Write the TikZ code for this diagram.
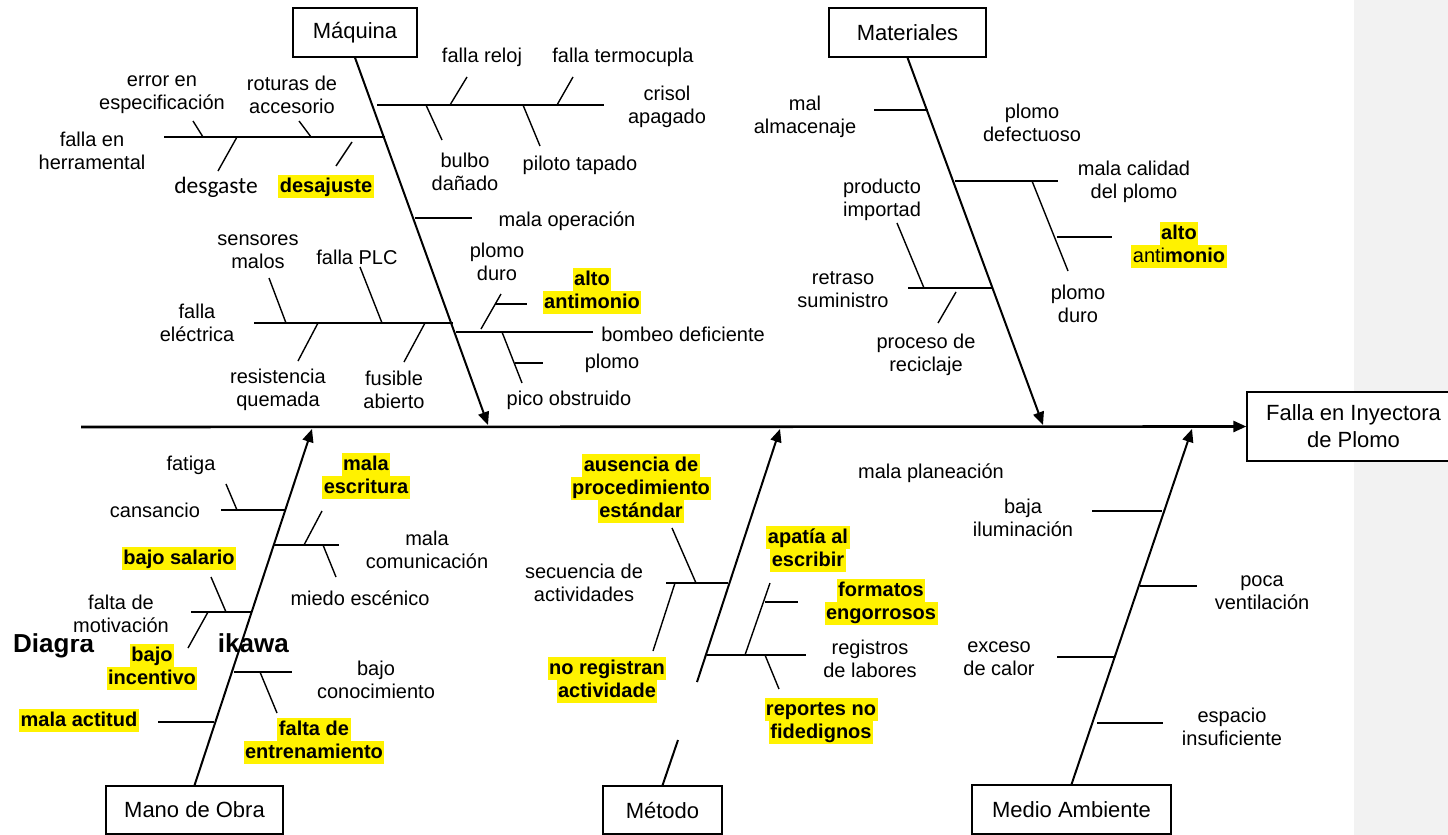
\documentclass[tikz,border=0pt]{standalone}
\usepackage{fontspec}
\setmainfont{Liberation Sans}
\newfontfamily\carlito{Carlito}
\usetikzlibrary{arrows.meta}
\definecolor{stripgrey}{RGB}{242,242,242}
\newcommand\hl[1]{{\setlength{\fboxsep}{0pt}\colorbox{yellow}{\rule[-5.5pt]{0pt}{23pt}\kern1.5pt#1\kern1.5pt}}}
\tikzset{
  catbox/.style={draw, line width=1.3pt, fill=white, inner sep=0pt, align=center, font=\fontsize{22}{26}\selectfont},
  spine/.style={line width=2.6pt},
  bone/.style={line width=2pt},
  sub/.style={line width=1.4pt},
  lbl/.style={inner sep=0pt, align=center, font=\fontsize{20}{23}\selectfont},
  hlbl/.style={inner sep=0pt, align=center, font=\fontsize{20}{23}\selectfont\bfseries},
  ttl/.style={inner sep=0pt, font=\fontsize{26}{30}\selectfont\bfseries},
  arr/.style={-{Triangle[length=13pt,width=11pt]}},
}
\begin{document}
\begin{tikzpicture}[x=1pt,y=-1pt]
\useasboundingbox (0,0) rectangle (1448,835);
\fill[stripgrey] (1354,0) rectangle (1448,835);

% title (visible fragments)
\node[ttl, anchor=base west] (title1) at (13,652) {Diagra};
\node[ttl, anchor=base east] (title2) at (289,652) {ikawa};
\fill[white] (68,588) rectangle (182,638.5);

% category boxes
\node[catbox, minimum width=124pt, minimum height=49pt] (maq) at (355,32.5) {Máquina};
\node[catbox, minimum width=157pt, minimum height=49pt] (mat) at (907.5,32.5) {Materiales};
\node[catbox, minimum width=177pt, minimum height=48pt] (mo) at (194.5,810) {Mano de Obra};
\node[catbox, minimum width=119pt, minimum height=48pt] (met) at (662.5,810) {Método};
\node[catbox, minimum width=199pt, minimum height=49pt] (ma) at (1071.5,809.5) {Medio Ambiente};
\node[catbox, minimum width=213pt, minimum height=69pt, font=\fontsize{22}{27}\selectfont] (falla) at (1353.5,426.5) {Falla en Inyectora\\de Plomo};

% spine and bones
\coordinate (sp0) at (81,427);
\draw[spine,arr] (sp0) -- (falla.west);
\coordinate (tMaq) at (488,425);
\coordinate (tMat) at (1043,425);
\coordinate (tMo) at (312,429);
\coordinate (tMet) at (780,429);
\coordinate (tMa) at (1192,429);
\coordinate (gapA) at (678,740);
\coordinate (gapB) at (697,682);
\draw[bone,arr] (maq.south) -- (tMaq);
\draw[bone,arr] (mat.south) -- (tMat);
\draw[bone,arr] (mo.north) -- (tMo);
\draw[bone] (met.north) -- (gapA);
\draw[bone,arr] (gapB) -- (tMet);
\draw[bone,arr] (ma.north) -- (tMa);

% ---- Maquina sub-bones
\draw[sub] (377,105) -- (604,105);
\draw[sub] (450,105) -- (467,77);
\draw[sub] (557,105) -- (573,77);
\draw[sub] (426,105) -- (442,140);
\draw[sub] (523,105) -- (540,146);
\draw[sub] (164,137) -- (385,137);
\draw[sub] (203,137) -- (193,121);
\draw[sub] (311,137) -- (299,121);
\draw[sub] (237,137) -- (218,171);
\draw[sub] (352,142) -- (336,166);
\draw[sub] (415,218) -- (472,218);
\draw[sub] (254,323) -- (453,323);
\draw[sub] (286,323) -- (269,278);
\draw[sub] (382,323) -- (360,267);
\draw[sub] (318,323) -- (298,361);
\draw[sub] (425,323) -- (404,362);
\draw[sub] (456,332) -- (593,332);
\draw[sub] (481,329) -- (501,294);
\draw[sub] (495,304) -- (527,304);
\draw[sub] (502,332) -- (522,383);
\draw[sub] (515,363) -- (543,363);

\node[lbl] (l1) at (482,57) {falla reloj};
\node[lbl] (l2) at (623,57) {falla termocupla};
\node[lbl] (l3) at (667,107) {crisol\\apagado};
\node[lbl] (l4) at (465,172) {bulbo\\dañado};
\node[lbl] (l5) at (580,165) {piloto tapado};
\node[lbl] (l6) at (92,151) {falla en\\herramental};
\node[lbl] (l7) at (162,95) {error en\\especificación};
\node[lbl] (l8) at (292,95) {roturas de\\accesorio};
\node[inner sep=0pt, font=\carlito\fontsize{23.5}{27}\selectfont] (l9) at (216,187) {desgaste};
\node[hlbl] (l10) at (326,186) {\hl{desajuste}};
\node[lbl] (l11) at (567,221) {mala operación};
\node[lbl] (l12) at (258,252) {sensores\\malos};
\node[lbl] (l13) at (357,257) {falla PLC};
\node[lbl] (l14) at (197,323) {falla\\eléctrica};
\node[lbl] (l15) at (278,390) {resistencia\\quemada};
\node[lbl] (l16) at (394,390) {fusible\\abierto};
\node[lbl] (l17) at (497,262) {plomo\\duro};
\node[hlbl] (l18) at (592,291) {\hl{alto}\\\hl{antimonio}};
\node[lbl] (l19) at (683,334) {bombeo deficiente};
\node[lbl] (l20) at (612,363) {plomo};
\node[lbl] (l21) at (569,400) {pico obstruido};

% ---- Materiales
\draw[sub] (874,110) -- (928,110);
\draw[sub] (955,181) -- (1058,181);
\draw[sub] (1032,181) -- (1068,271);
\draw[sub] (1057,237) -- (1112,237);
\draw[sub] (908,288) -- (993,288);
\draw[sub] (924,288) -- (897,223);
\draw[sub] (956,292) -- (938,323);

\node[lbl] (m1) at (805,117) {mal\\almacenaje};
\node[lbl] (m2) at (1032,123) {plomo\\defectuoso};
\node[lbl] (m3) at (1134,182) {mala calidad\\del plomo};
\node[lbl] (m4) at (1078,304) {plomo\\duro};
\node[lbl] (m5) at (1179,245) {\hl{\textbf{alto}}\\\hl{anti\textbf{monio}}};
\node[lbl] (m6) at (882,200) {producto\\importad};
\node[lbl] (m7) at (843,290) {retraso\\suministro};
\node[lbl] (m8) at (926,355) {proceso de\\reciclaje};

% ---- Mano de Obra
\draw[sub] (221,510) -- (285,510);
\draw[sub] (237,510) -- (226,484);
\draw[sub] (274,545) -- (339,545);
\draw[sub] (304,545) -- (322,511);
\draw[sub] (323,545) -- (336,577);
\draw[sub] (191,612) -- (251,612);
\draw[sub] (226,612) -- (211,577);
\draw[sub] (208,612) -- (188,648);
\draw[sub] (234,672) -- (292,672);
\draw[sub] (260,672) -- (277,713);
\draw[sub] (158,722) -- (214,722);

\node[lbl] (o1) at (191,465) {fatiga};
\node[lbl] (o2) at (155,510) {cansancio};
\node[hlbl] (o3) at (366,476) {\hl{mala}\\\hl{escritura}};
\node[lbl] (o4) at (427,550) {mala\\comunicación};
\node[lbl] (o5) at (360,598) {miedo escénico};
\node[hlbl] (o6) at (179,558) {\hl{bajo salario}};
\node[lbl] (o7) at (121,614) {falta de\\motivación};
\node[hlbl] (o8) at (152,667) {\hl{bajo}\\\hl{incentivo}};
\node[lbl] (o9) at (376,680) {bajo\\conocimiento};
\node[hlbl] (o10) at (314,741) {\hl{falta de}\\\hl{entrenamiento}};
\node[hlbl] (o11) at (79,720) {\hl{mala actitud}};

% ---- Metodo
\draw[sub] (666,583) -- (728,583);
\draw[sub] (696,583) -- (672,528);
\draw[sub] (675,583) -- (653,651);
\draw[sub] (707,655) -- (806,655);
\draw[sub] (745,655) -- (770,583);
\draw[sub] (765,602) -- (798,602);
\draw[sub] (765,655) -- (779,689);

\node[hlbl] (e1) at (641,488) {\hl{ausencia de}\\\hl{procedimiento}\\\hl{estándar}};
\node[lbl] (e2) at (584,583) {secuencia de\\actividades};
\node[hlbl] (e3) at (607,680) {\hl{no registran}\\\hl{actividade}};
\node[hlbl] (e4) at (808,549) {\hl{apatía al}\\\hl{escribir}};
\node[hlbl] (e5) at (881,602) {\hl{formatos}\\\hl{engorrosos}};
\node[lbl] (e6) at (870,659) {registros\\de labores};
\node[hlbl] (e7) at (821,721) {\hl{reportes no}\\\hl{fidedignos}};
\node[lbl] (e8) at (931,473) {mala planeación};

% ---- Medio Ambiente
\draw[sub] (1092,511) -- (1162,511);
\draw[sub] (1140,586) -- (1197,586);
\draw[sub] (1057,657) -- (1114,657);
\draw[sub] (1097,723) -- (1163,723);

\node[lbl] (a1) at (1023,518) {baja\\iluminación};
\node[lbl] (a2) at (1262,593) {poca\\ventilación};
\node[lbl] (a3) at (999,659) {exceso\\de calor};
\node[lbl] (a4) at (1232,727) {espacio\\insuficiente};
\end{tikzpicture}
\end{document}
